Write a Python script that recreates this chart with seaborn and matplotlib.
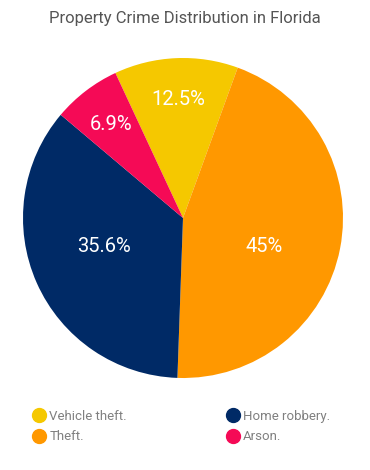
import numpy as np
import matplotlib.pyplot as plt
import seaborn as sns
from matplotlib.lines import Line2D

# ── Data ──────────────────────────────────────────────────────────────────────
categories = ["Vehicle theft.", "Theft.", "Home robbery.", "Arson."]
shares     = [12.5, 45.0, 35.6, 6.9]
pct_labels = ["12.5%", "45%", "35.6%", "6.9%"]
colors     = ["#F5C800", "#FF9800", "#002A66", "#F50A56"]

sns.set_theme(style="white")
plt.rcParams["font.family"] = ["Roboto", "DejaVu Sans"]

fig = plt.figure(figsize=(3.7, 4.7), dpi=100)
ax = fig.add_axes([23 / 370, 92 / 470, 320 / 370, 320 / 470])

wedges, _ = ax.pie(shares, colors=colors, startangle=115, counterclock=False,
                   radius=1.0, wedgeprops=dict(linewidth=0))
ax.set_xlim(-1, 1); ax.set_ylim(-1, 1)
ax.set_aspect("equal")

# label placement: distance from centre (fraction of radius) and angle nudge
label_r   = [0.74, 0.54, 0.525, 0.735]
label_rot = [0, -8.5, -4, 0]
for w, txt, r, d in zip(wedges, pct_labels, label_r, label_rot):
    mid = np.deg2rad((w.theta1 + w.theta2) / 2 + d)
    ax.text(r * np.cos(mid), r * np.sin(mid), txt, color="white",
            fontsize=14.5, ha="center", va="center")

fig.text(0.5, 1 - 18 / 470, "Property Crime Distribution in Florida",
         ha="center", va="center", fontsize=12, color="#555555")

handles = [Line2D([0], [0], marker="o", linestyle="", markersize=10,
                  markerfacecolor=c, markeredgecolor=c) for c in colors]
fig.legend(handles, categories, ncol=2, loc="upper left",
           bbox_to_anchor=(0.055, 1 - 398 / 470), frameon=False,
           fontsize=9.5, labelcolor="#808080", handletextpad=0.3,
           columnspacing=7.5, labelspacing=0.55, handlelength=1.0)

fig.savefig("out.png", dpi=100)
